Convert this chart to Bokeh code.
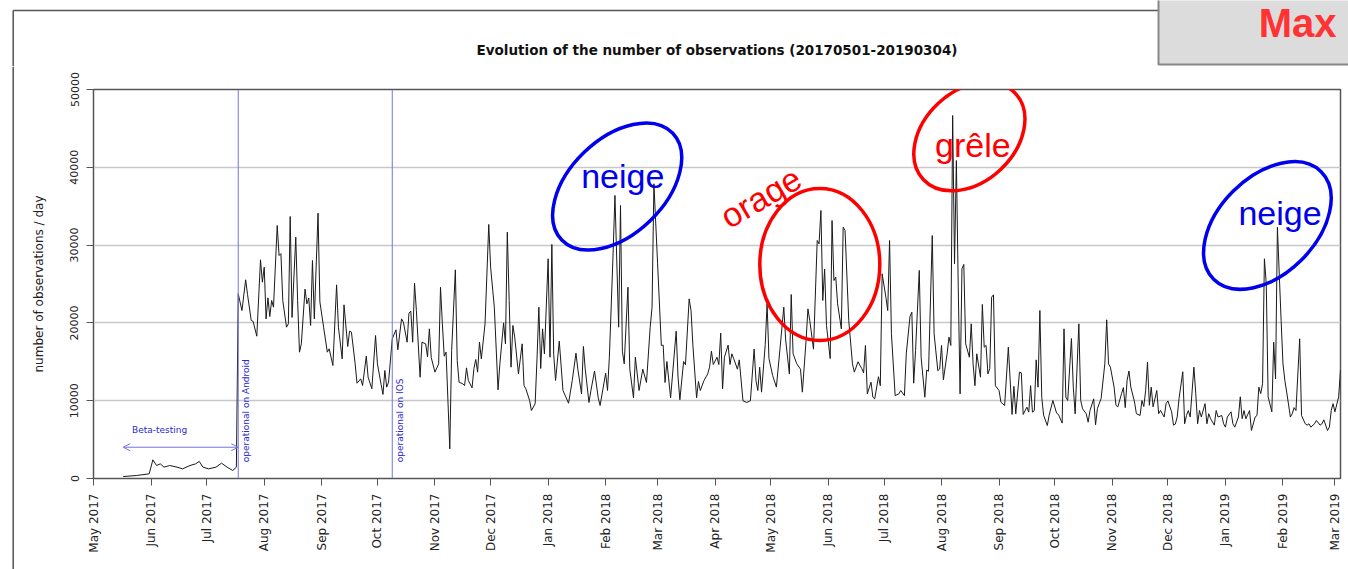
import pandas as pd
from math import pi, radians
from bokeh.plotting import figure
from bokeh.layouts import column, row
from bokeh.models import (Range1d, FixedTicker, Span, Label, Arrow, OpenHead,
                          ColumnDataSource, Div)
from bokeh.embed import file_html
from bokeh.resources import INLINE

# ---------------- data ----------------
start_date = "2017-05-01"
end_date = "2019-03-04"
chart_title = "Evolution of the number of observations (20170501-20190304)"

# day offsets from start_date and number of observations that day
obs_day = [
    16, 23, 30, 32, 34, 36, 38, 41, 45, 48, 52, 55, 57, 59, 62, 66, 69, 72, 75, 77,
    78, 80, 82, 83, 85, 86, 88, 90, 91, 92, 93, 94, 95, 96, 97, 99, 100, 101, 102, 104,
    105, 106, 107, 109, 110, 111, 112, 114, 115, 116, 117, 118, 119, 121, 122, 124, 126, 127, 129, 131,
    132, 134, 135, 137, 138, 139, 141, 142, 144, 145, 147, 148, 150, 152, 153, 155, 156, 157, 158, 159,
    161, 163, 164, 166, 167, 169, 170, 171, 172, 173, 174, 176, 177, 179, 180, 181, 182, 184, 186, 187,
    188, 189, 190, 192, 193, 195, 196, 197, 199, 200, 201, 202, 204, 205, 206, 207, 208, 209, 211, 213,
    214, 216, 218, 219, 221, 222, 223, 224, 225, 226, 227, 229, 231, 232, 233, 235, 236, 238, 239, 240,
    241, 242, 243, 245, 246, 247, 248, 249, 251, 253, 256, 258, 260, 261, 263, 264, 265, 267, 268, 270,
    272, 273, 276, 277, 278, 280, 281, 283, 284, 285, 286, 288, 289, 291, 292, 294, 296, 298, 300, 301,
    302, 304, 306, 307, 308, 309, 311, 314, 315, 316, 318, 319, 321, 322, 323, 325, 326, 327, 329, 331,
    332, 333, 334, 336, 337, 338, 339, 340, 342, 343, 344, 345, 347, 348, 350, 352, 354, 356, 357, 358,
    359, 360, 362, 363, 364, 366, 368, 370, 372, 373, 375, 376, 377, 379, 381, 382, 384, 385, 386, 388,
    390, 391, 392, 393, 394, 395, 397, 398, 399, 400, 401, 403, 404, 405, 407, 409, 410, 412, 414, 415,
    416, 417, 419, 420, 421, 423, 424, 425, 427, 428, 429, 430, 432, 434, 435, 437, 438, 440, 441, 442,
    443, 445, 446, 448, 449, 450, 452, 453, 455, 456, 457, 458, 460, 461, 462, 463, 464, 465, 466, 467,
    468, 469, 470, 472, 473, 474, 475, 476, 478, 479, 480, 481, 482, 483, 484, 485, 486, 488, 489, 491,
    493, 495, 496, 497, 499, 500, 501, 503, 504, 505, 506, 507, 508, 509, 510, 511, 512, 514, 515, 517,
    519, 520, 522, 523, 524, 525, 527, 528, 529, 531, 532, 533, 535, 536, 537, 539, 540, 541, 543, 545,
    546, 547, 548, 550, 551, 552, 554, 555, 556, 557, 558, 559, 561, 562, 564, 565, 566, 567, 568, 569,
    570, 571, 573, 574, 575, 577, 578, 579, 581, 582, 583, 584, 585, 587, 588, 589, 590, 591, 593, 594,
    595, 596, 597, 599, 600, 601, 602, 604, 605, 606, 608, 609, 610, 611, 613, 614, 615, 617, 618, 619,
    620, 621, 623, 624, 626, 627, 628, 629, 630, 631, 632, 633, 635, 636, 637, 638, 640, 641, 642, 643,
    645, 646, 647, 648, 650, 651, 653, 654, 655, 656, 658, 659, 661, 662, 663, 665, 666, 667, 668, 669,
    671, 672,
]
obs_count = [
    250, 380, 600, 2400, 1670, 1880, 1460, 1670, 1460, 1240, 1670, 1880, 2190, 1460, 1240, 1460, 1970, 1460, 1030, 1460,
    23740, 21590, 25540, 23650, 20310, 20200, 18290, 28110, 25230, 27160, 20520, 23220, 20820, 22880, 22020, 32520, 28660, 28900, 22880, 19450,
    19880, 33680, 20700, 31020, 22880, 16240, 17310, 24340, 22450, 23200, 19670, 28020, 20520, 34100, 22700, 19450, 16240, 16670, 14520, 24890,
    19450, 15380, 22320, 16970, 18940, 18810, 14740, 12250, 12810, 11950, 15720, 13020, 11530, 18380, 14740, 12080, 10800, 13880, 11740, 12380,
    17950, 19110, 16540, 20520, 20090, 17520, 21250, 21510, 17520, 25110, 21590, 13020, 17520, 17310, 15630, 19240, 15550, 13670, 14740, 24590,
    19880, 15720, 16240, 3810, 16450, 26820, 15170, 12380, 12170, 11950, 14220, 12600, 11650, 14140, 15300, 13670, 17520, 15380, 19880, 32650,
    27160, 22020, 11400, 14740, 20010, 17310, 31660, 22880, 14310, 19670, 18170, 13450, 17310, 11950, 11520, 10030, 8740, 9600, 15380, 22020,
    14140, 19240, 16000, 28240, 15590, 30080, 15980, 12600, 17650, 11310, 9680, 12600, 16110, 14050, 10880, 16970, 14050, 9770, 11230, 13820,
    10370, 9380, 13540, 11310, 15590, 28880, 36380, 19450, 35090, 16370, 14740, 24590, 14050, 10370, 15590, 11310, 14050, 12340, 19450, 22020,
    37880, 27590, 17100, 17140, 12340, 15040, 10370, 18930, 13030, 10120, 15040, 14620, 23090, 21590, 17140, 10370, 12470, 11310, 12600, 13450,
    14310, 16370, 14650, 15590, 14650, 18680, 11530, 15590, 17140, 14650, 16030, 15420, 14050, 15250, 9990, 9770, 9990, 16630, 12600, 11310,
    14310, 11100, 17220, 22450, 15420, 13230, 11750, 16800, 22020, 17820, 13450, 23650, 16030, 14740, 14050, 11100, 17740, 21800, 20290, 16630,
    30590, 30160, 34450, 22880, 26920, 19670, 15420, 33160, 25450, 25880, 22450, 19240, 32300, 31880, 20290, 14740, 13670, 15000, 14140, 13580,
    17100, 10880, 12380, 10450, 10240, 13080, 11930, 26310, 23310, 21590, 30590, 18600, 10660, 10880, 11310, 10660, 16030, 20820, 21380, 12250,
    16450, 26740, 15590, 10450, 13930, 13790, 31230, 18600, 13850, 14070, 17100, 12690, 16030, 18170, 17100, 46660, 27590, 40870, 24600, 10880,
    26960, 27520, 17310, 15590, 19880, 14740, 11930, 16030, 13020, 22370, 16880, 17100, 13450, 14140, 23310, 23610, 11930, 11310, 9810, 9380,
    16880, 8230, 11840, 8310, 13670, 13580, 8230, 9170, 8530, 11930, 8530, 8740, 15250, 11740, 21590, 10450, 8140, 6810, 8140, 10030,
    8400, 8230, 7120, 19240, 10450, 10030, 17990, 11740, 8310, 19880, 10030, 8960, 8310, 7240, 8740, 10240, 6900, 9000, 10280, 14740,
    20400, 14740, 14310, 11740, 9410, 9200, 10910, 11680, 9110, 12620, 13820, 11760, 9830, 8330, 8100, 10020, 9250, 11310, 14950, 9410,
    11750, 9200, 11310, 8330, 8740, 7900, 9620, 9960, 8570, 6860, 7000, 7900, 10290, 13720, 7030, 8100, 8740, 7900, 14310, 10910,
    7030, 8740, 7900, 9620, 7030, 8330, 7680, 6860, 8740, 7900, 8100, 7030, 6600, 7900, 8570, 7030, 6600, 7900, 10500, 7680,
    8740, 7680, 8740, 6170, 7900, 8100, 11740, 10910, 12190, 28240, 25020, 10500, 8570, 17520, 12790, 32300, 20310, 14740, 12620, 11110,
    7900, 8330, 9110, 8740, 17950, 8100, 7030, 6860, 7030, 6600, 7030, 7460, 6860, 7030, 7540, 6170, 6600, 8740, 9620, 8570,
    10500, 13930,
]

month_labels = ["May 2017", "Jun 2017", "Jul 2017", "Aug 2017", "Sep 2017", "Oct 2017",
                "Nov 2017", "Dec 2017", "Jan 2018", "Feb 2018", "Mar 2018", "Apr 2018",
                "May 2018", "Jun 2018", "Jul 2018", "Aug 2018", "Sep 2018", "Oct 2018",
                "Nov 2018", "Dec 2018", "Jan 2019", "Feb 2019", "Mar 2019"]
y_ticks = [0, 10000, 20000, 30000, 40000, 50000]

android_date = "2017-07-18"
ios_date = "2017-10-09"

# ---------------- helpers ----------------
t0 = pd.Timestamp(start_date)
dates = t0 + pd.to_timedelta(obs_day, unit="D")
src = ColumnDataSource(dict(date=dates, count=obs_count))

def ms(ts):
    return int(pd.Timestamp(ts).value // 10**6)

def day(n):
    return t0 + pd.Timedelta(days=n)

def no_align(f):
    try:
        f.frame_align = False
        return True
    except Exception:
        return False

month_ticks = [ms(t) for t in pd.date_range(start_date, periods=len(month_labels), freq="MS")]

PAGE_W, PAGE_H = 1348, 569
TOP_H, LEFT_W = 66, 14
frame_col = "#555555"

def deco_fig(w, h):
    f = figure(width=w, height=h, x_range=Range1d(0, w), y_range=Range1d(h, 0),
               toolbar_location=None, output_backend="svg",
               x_axis_type=None, y_axis_type=None, min_border=0)
    f.outline_line_color = None
    f.background_fill_color = "white"
    f.border_fill_color = "white"
    return f

# ---- top strip: slide frame, title, "Max" box
top = deco_fig(PAGE_W, TOP_H)
no_align(top)
top.segment(x0=[12.7, 12.7], y0=[10, 10], x1=[1158, 12.7], y1=[10, TOP_H],
            line_color=frame_col, line_width=1.5)
top.quad(left=[1158], right=[PAGE_W + 2], top=[-2], bottom=[64],
         fill_color="#dcdcdc", line_color="#888888", line_width=2)
top.add_layout(Label(x=1336, y=22.5, text="Max", text_align="right", text_baseline="middle",
                     text_font="Liberation Sans", text_font_size="40px",
                     text_font_style="bold", text_color="#ff3333"))
top.add_layout(Label(x=716.5, y=49.5, text=chart_title, text_align="center",
                     text_baseline="middle", text_font="DejaVu Sans",
                     text_font_size="13.5px", text_font_style="bold", text_color="#111111"))

# ---- left strip: slide frame
left = deco_fig(LEFT_W, PAGE_H - TOP_H)
if no_align(left):
    left.segment(x0=[12.7], y0=[0], x1=[12.7], y1=[PAGE_H - TOP_H],
                 line_color=frame_col, line_width=1.5)
else:
    left = Div(width=LEFT_W, height=PAGE_H - TOP_H,
               styles={"border-right": "1.5px solid %s" % frame_col, "box-sizing": "border-box",
                       "margin-right": "1px"})

# ---- main chart
W, H = PAGE_W - LEFT_W, PAGE_H - TOP_H
p = figure(width=W, height=H, x_axis_type="datetime", output_backend="svg",
           toolbar_location=None,
           x_range=Range1d(pd.Timestamp(start_date), pd.Timestamp(end_date)),
           y_range=Range1d(0, 50000),
           min_border_left=93 - LEFT_W, min_border_right=8,
           min_border_top=89 - TOP_H, min_border_bottom=H - (478 - TOP_H))
no_align(p)

p.background_fill_color = "white"
p.border_fill_color = "white"
p.outline_line_color = frame_col
p.outline_line_width = 1.5

tick_font = "DejaVu Sans"
p.xaxis.ticker = FixedTicker(ticks=month_ticks)
p.xaxis.major_label_overrides = {t: lab for t, lab in zip(month_ticks, month_labels)}
p.xaxis.major_label_orientation = pi / 2
p.xaxis.major_label_text_font = tick_font
p.xaxis.major_label_text_font_size = "12px"
p.xaxis.major_label_standoff = 8
p.yaxis.ticker = FixedTicker(ticks=y_ticks)
p.yaxis.major_label_orientation = "vertical"
p.yaxis.major_label_text_font = tick_font
p.yaxis.major_label_text_font_size = "11px"
p.yaxis.major_label_standoff = 8
p.yaxis.axis_label = "number of observations / day"
p.yaxis.axis_label_text_font = tick_font
p.yaxis.axis_label_text_font_size = "12px"
p.yaxis.axis_label_text_font_style = "normal"
p.yaxis.axis_label_text_color = "#222222"
p.yaxis.axis_label_standoff = 22
for ax in (p.xaxis, p.yaxis):
    ax.axis_line_color = frame_col
    ax.major_tick_line_color = frame_col
    ax.major_tick_out = 7
    ax.major_tick_in = 0
    ax.minor_tick_line_color = None
    ax.major_label_text_color = "#222222"

p.xgrid.visible = False
p.ygrid.ticker = FixedTicker(ticks=y_ticks)
p.ygrid.grid_line_color = "#c8c8c8"
p.ygrid.grid_line_width = 1.5

# data line
p.line("date", "count", source=src, line_color="#1a1a1a", line_width=1)

# events
evt_color = "#7474e0"
txt_blue = "#2a2ad0"
for d, txt in ((android_date, "operational on Android"), (ios_date, "operational on IOS")):
    p.add_layout(Span(location=pd.Timestamp(d), dimension="height",
                      line_color=evt_color, line_width=1))
    p.add_layout(Label(x=pd.Timestamp(d), y=2100, x_offset=8, angle=pi / 2, text=txt,
                       text_align="left", text_baseline="middle",
                       text_font="DejaVu Sans", text_font_size="9px", text_color=txt_blue))

p.add_layout(Arrow(start=OpenHead(size=7, line_color=evt_color, line_width=1),
                   end=OpenHead(size=7, line_color=evt_color, line_width=1),
                   x_start=dates[0], y_start=4020, x_end=pd.Timestamp(android_date), y_end=4020,
                   line_color=evt_color, line_width=1))
p.add_layout(Label(x=day(35.6), y=6170, text="Beta-testing", text_align="center",
                   text_baseline="middle", text_font="DejaVu Sans", text_font_size="9px",
                   text_color=txt_blue))

# hand-drawn highlights
blue = "#0000ee"
red = "#ff0000"
ell = ColumnDataSource(dict(
    x=[day(282.2), day(391.4), day(472.0), day(632.6)],
    y=[37530, 27510, 43960, 32520],
    w=[154, 120, 126, 152],
    h=[95, 152, 91, 97],
    a=[radians(44), 0.0, radians(43), radians(45)],
    c=[blue, red, red, blue],
))
p.ellipse(x="x", y="y", width="w", height="h", angle="a", source=ell,
          width_units="screen", height_units="screen",
          fill_color=None, line_color="c", line_width=3.5)

for x, y, txt, col, ang in ((day(285.2), 38890, "neige", blue, 0.0),
                            (day(359.6), 36150, "orage", red, radians(30.4)),
                            (day(473.9), 42830, "grêle", red, 0.0),
                            (day(639.4), 34190, "neige", blue, 0.0)):
    p.add_layout(Label(x=x, y=y, text=txt, angle=ang, text_align="center",
                       text_baseline="middle", text_font="Liberation Sans",
                       text_font_size="34px", text_color=col))

layout = column(top, row(left, p, spacing=0), spacing=0)
open("out.html", "w").write(file_html(layout, INLINE))
